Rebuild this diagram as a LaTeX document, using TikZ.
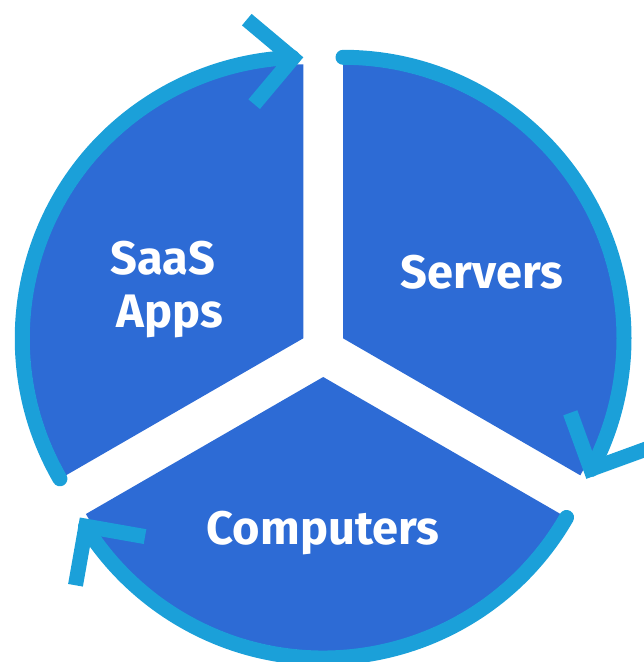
\documentclass[tikz,border=0pt]{standalone}
\usepackage{fontspec}
\setmainfont{Fira Sans}
\usetikzlibrary{calc}
\definecolor{sectorblue}{HTML}{2D6BD5}
\definecolor{ringblue}{HTML}{1BA0D9}
\begin{document}
\begin{tikzpicture}[x=1pt,y=1pt,
  sector/.style={fill=sectorblue},
  ring/.style={draw=ringblue, line width=15pt, line cap=round},
  tiparrow/.style={draw=ringblue, line width=15pt, line cap=butt, line join=miter, miter limit=10},
  lbl/.style={text=white, font=\fontsize{47}{55}\selectfont\bfseries, inner sep=0pt, anchor=base}]
\useasboundingbox (0,0) rectangle (644,662);
% sector vertices
\coordinate (V1) at (303.3,323.7);
\coordinate (V2) at (343.0,323.7);
\coordinate (V3) at (323.2,285.0);
% sectors
\fill[sector] (V1) -- ($(V1)+(90:274)$) arc[start angle=90,end angle=210,radius=274] -- cycle;
\fill[sector] (V2) -- ($(V2)+(-30:274)$) arc[start angle=-30,end angle=90,radius=274] -- cycle;
\fill[sector] (V3) -- ($(V3)+(-150:274)$) arc[start angle=-150,end angle=-30,radius=274] -- cycle;
% arrow tips
\coordinate (T1) at ($(V1)+(90:281)$);
\coordinate (T2) at ($(V2)+(-30:281)$);
\coordinate (T3) at ($(V3)+(-150:281)$);
\coordinate (P1) at ($(T1)+(185:10.6)$);
\coordinate (P2) at ($(T2)+(65:10.6)$);
\coordinate (P3) at ($(T3)+(305:10.6)$);
% rings
\draw[ring] ($(V1)+(210:281)$) arc[start angle=210,end angle=92.2,radius=281];
\draw[ring] ($(V2)+(90:281)$) arc[start angle=90,end angle=-27.8,radius=281];
\draw[ring] ($(V3)+(-30:281)$) arc[start angle=-30,end angle=-147.8,radius=281];
% arrowheads
\draw[tiparrow] ($(P1)+(140:60)$) -- (P1) -- ($(P1)+(230:60)$);
\draw[tiparrow] ($(P2)+(110:60)$) -- (P2) -- ($(P2)+(20:60)$);
\draw[tiparrow] ($(P3)+(350:60)$) -- (P3) -- ($(P3)+(260:60)$);
% labels
\node[lbl] (saas) at (163,387) {SaaS};
\node[lbl] (apps) at (170,334) {Apps};
\node[lbl] (servers) at (482,373) {Servers};
\node[lbl] (computers) at (323,117) {Computers};
\end{tikzpicture}
\end{document}
